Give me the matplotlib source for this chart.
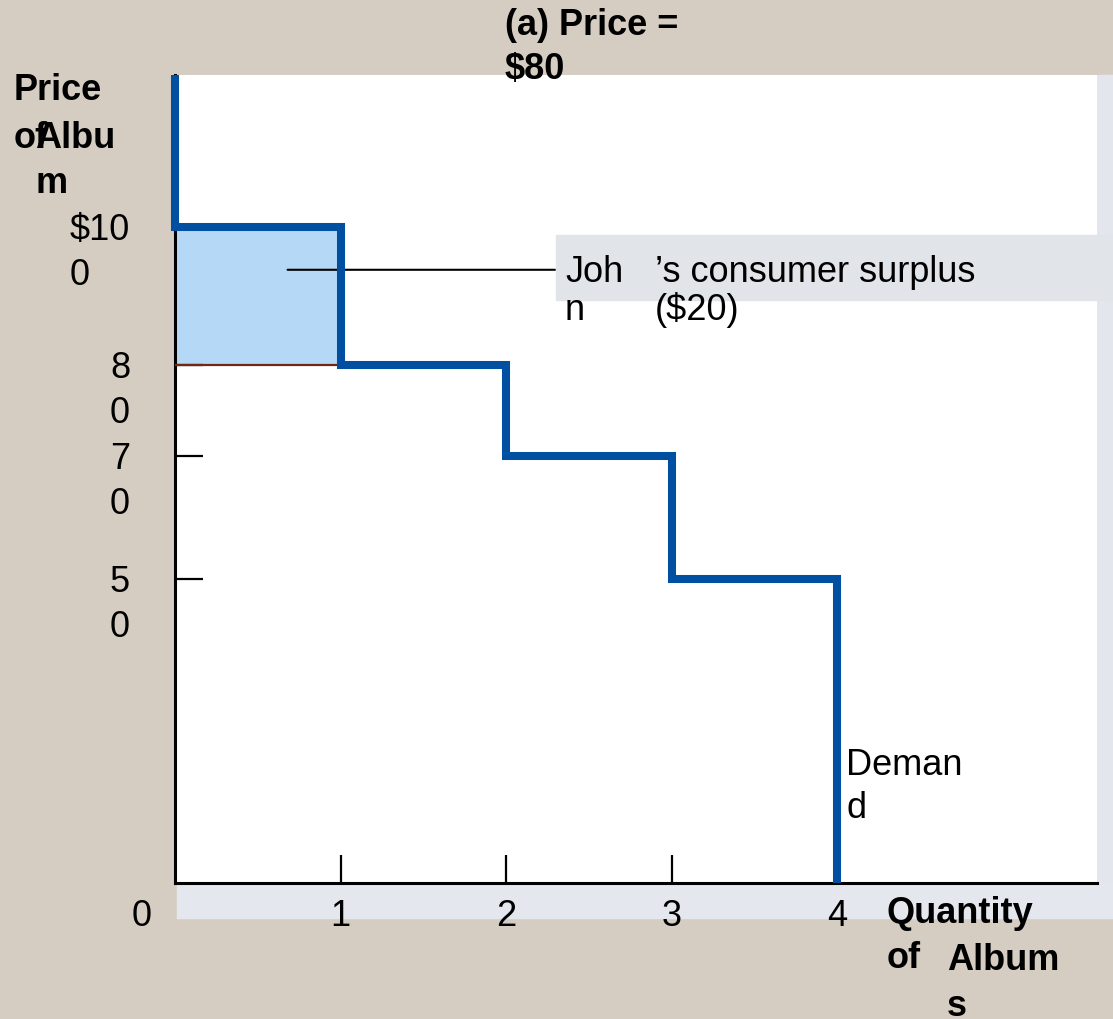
import numpy as np
import matplotlib.pyplot as plt
from matplotlib.patches import Rectangle

plt.rcParams['font.family'] = ['Liberation Sans', 'DejaVu Sans']

# one album each: what every buyer is willing to pay
quantities = [1, 2, 3, 4]
willing_to_pay = [100, 80, 70, 50]
market_price = 80
john_surplus = willing_to_pay[0] - market_price

price_ticks = [100, 80, 70, 50]
price_tick_labels = ['$10\n0', '8\n0', '7\n0', '5\n0']
qty_ticks = [1, 2, 3, 4]
qty_tick_labels = ['1', '2', '3', '4']

W, H = 1113, 1019
BEIGE = '#d6cdc2'
BLUE = '#004fa0'

# textbook figure: price axis is not drawn to scale
scale_vals = [-100, 0, 50, 70, 80, 100, 122, 1000]
scale_pos = [-608, 0, 304, 427, 518, 656, 808, 6866]


def fwd(v):
    return np.interp(v, scale_vals, scale_pos)


def inv(p):
    return np.interp(p, scale_pos, scale_vals)


def px_text(x, y, s, **kw):
    # x, y in image pixels (y = baseline of last line, from top)
    return fig.text(x / W, 1 - y / H, s, va='baseline', **kw)


fig = plt.figure(figsize=(W / 100, H / 100), dpi=100, facecolor=BEIGE)
ax = fig.add_axes([175 / W, (H - 883) / H, 922 / W, 808 / H])
ax.set_facecolor('white')
ax.set_yscale('function', functions=(fwd, inv))
ax.set_xlim(0, 5.57)
ax.set_ylim(0, 122)

# light strips right of / below the plot
fig.add_artist(Rectangle((1097 / W, (H - 883) / H), 16 / W, 808 / H,
                         transform=fig.transFigure, color='#e3e6ed', zorder=-1))
fig.add_artist(Rectangle((177 / W, (H - 918) / H), (W - 177) / W, 35 / H,
                         transform=fig.transFigure, color='#e4e7ee', zorder=-1))

for s in ['top', 'right']:
    ax.spines[s].set_visible(False)
for s in ['left', 'bottom']:
    ax.spines[s].set_linewidth(2.2)

# demand staircase
top = ax.get_ylim()[1]
xs, ys = [0], [top]
for q, p in zip(quantities, willing_to_pay):
    xs += [q - 1, q]
    ys += [p, p]
xs.append(quantities[-1])
ys.append(0)
ax.plot(xs, ys, color=BLUE, lw=5.8, solid_joinstyle='miter',
        solid_capstyle='butt', zorder=4, clip_on=False)

# John's surplus and the price line
ax.fill_between([0, quantities[0]], market_price, willing_to_pay[0],
                color='#b5d8f7', lw=0, zorder=1)
ax.plot([0, quantities[0]], [market_price, market_price], color='#6e2814',
        lw=1.6, zorder=3)

ax.set_xticks(qty_ticks, qty_tick_labels)
ax.tick_params(axis='x', direction='in', length=20, width=1.6, pad=11.5,
               labelsize=26)
ax.set_yticks(price_ticks, [''] * len(price_ticks))
ax.tick_params(axis='y', direction='in', length=20, width=1.6)

# two-line labels: first line sits on the tick
for p, lab in zip(price_ticks, price_tick_labels):
    ax.annotate(lab, xy=(0, p), xytext=(-45, -58), textcoords='offset pixels',
                ha='right', va='baseline', multialignment='left',
                fontsize=26, linespacing=1.38, annotation_clip=False)

# leader to the label box
ax.annotate('', xy=(0.68, 93.8), xytext=(2.296, 93.8),
            arrowprops=dict(arrowstyle='-', lw=1.5, color='black',
                            shrinkA=0, shrinkB=0))
fig.add_artist(Rectangle((556 / W, 1 - 300 / H), (W - 556) / W, 65 / H,
                         transform=fig.transFigure, color='#e1e4e9', zorder=2))
px_text(565, 282, 'Joh', fontsize=26, zorder=3)
px_text(655, 282, '\u2019s consumer surplus', fontsize=26, zorder=3)
px_text(565, 320, 'n', fontsize=26, zorder=3)
px_text(655, 320, f'(${john_surplus})', fontsize=26, zorder=3)

px_text(846, 775, 'Deman', fontsize=26, zorder=3)
px_text(846, 818, 'd', fontsize=26, zorder=3)

px_text(505, 35, '(a) Price =', fontsize=26, fontweight='bold')
px_text(505, 79, f'${market_price}', fontsize=26, fontweight='bold')

px_text(14, 100, 'Price', fontsize=26, fontweight='bold')
px_text(14, 148, 'of', fontsize=26, fontweight='bold')
px_text(35, 148, 'Albu', fontsize=26, fontweight='bold')
px_text(35, 193, 'm', fontsize=26, fontweight='bold')

px_text(142, 926, '0', fontsize=26, ha='center')
px_text(887, 923, 'Quantity', fontsize=26, fontweight='bold')
px_text(887, 968, 'of', fontsize=26, fontweight='bold')
px_text(947, 970, 'Album', fontsize=26, fontweight='bold')
px_text(947, 1016, 's', fontsize=26, fontweight='bold')

fig.savefig('out.png', dpi=100, facecolor=BEIGE)
